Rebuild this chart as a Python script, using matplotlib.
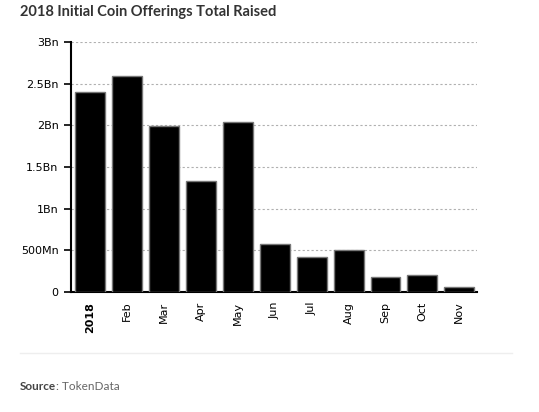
import matplotlib.pyplot as plt

months = ['2018', 'Feb', 'Mar', 'Apr', 'May', 'Jun', 'Jul', 'Aug', 'Sep', 'Oct', 'Nov']
raised = [2.40, 2.59, 1.99, 1.33, 2.04, 0.58, 0.42, 0.50, 0.18, 0.20, 0.056]  # billions USD
yticks = [0, 0.5, 1, 1.5, 2, 2.5, 3]
ylabels = ['0', '500Mn', '1Bn', '1.5Bn', '2Bn', '2.5Bn', '3Bn']

fig = plt.figure(figsize=(5.39, 4.12), dpi=100)
ax = fig.add_axes([71/539, 1 - 292/412, (477 - 71)/539, (292 - 42)/412])

x = range(len(months))
ax.bar(x, raised, width=0.81, color='black', edgecolor='#777777', linewidth=1, zorder=3)

ax.set_xlim(-0.52, 10.48)
ax.set_ylim(0, 3)
ax.set_yticks(yticks)
ax.set_yticklabels(ylabels)
ax.set_xticks(list(x))
ax.set_xticklabels(months, rotation=90)
ax.get_xticklabels()[0].set_fontweight('bold')

ax.grid(axis='y', linestyle=(0, (2, 2)), color='#b0b0b0', linewidth=0.8, zorder=0)
for side in ['top', 'right']:
    ax.spines[side].set_visible(False)
ax.spines['left'].set_linewidth(1.5)
ax.spines['bottom'].set_linewidth(1.5)
ax.tick_params(axis='y', length=5, width=1.2, labelsize=8, pad=4)
ax.tick_params(axis='x', length=0, labelsize=8, pad=7)

fig.text(20/539, 1 - 12/412, '2018 Initial Coin Offerings Total Raised', fontsize=10.5,
         fontweight='bold', color='#333333', va='center', family='Lato')
fig.add_artist(plt.Line2D([20/539, 512/539], [1 - 353/412, 1 - 353/412], color='#eeeeee', linewidth=1))
t = fig.text(20/539, 1 - 386/412, 'Source', fontsize=8.5, fontweight='bold', color='#444444',
             va='center', family='Lato')
fig.canvas.draw()
bb = t.get_window_extent()
fig.text(bb.x1 / fig.bbox.width, 1 - 386/412, ': TokenData', fontsize=8.5, color='#666666',
         va='center', family='Lato')

plt.savefig('out.png', dpi=100)
